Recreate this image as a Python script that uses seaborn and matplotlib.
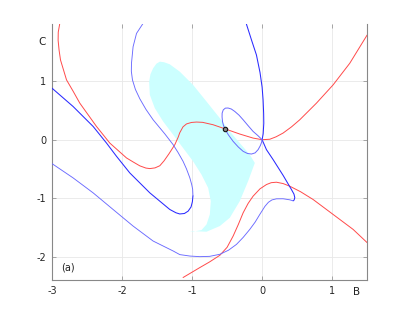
import matplotlib
matplotlib.use("Agg")
import matplotlib.pyplot as plt
import seaborn as sns

sns.set_style("ticks")

# red curve through origin (upper)
red_up_b = [-2.89, -2.912, -2.914, -2.90, -2.88, -2.794, -2.70, -2.604, -2.366, -2.176,
            -1.937, -1.843, -1.747, -1.66, -1.604, -1.53, -1.461, -1.40, -1.33, -1.247,
            -1.20, -1.176, -1.13, -1.08, -1.01, -0.937, -0.85, -0.7, -0.533,
            -0.319, -0.129, 0.0, 0.11, 0.2, 0.3, 0.42, 0.538, 0.776, 1.014, 1.252, 1.5]
red_up_c = [1.99, 1.84, 1.70, 1.53, 1.364, 1.023, 0.83, 0.625, 0.227, -0.057,
            -0.312, -0.38, -0.447, -0.485, -0.494, -0.482, -0.445, -0.36, -0.24, -0.085,
            0.04, 0.12, 0.22, 0.27, 0.295, 0.302, 0.297, 0.256, 0.187,
            0.097, 0.028, 0.0, 0.008, 0.05, 0.114, 0.22, 0.341, 0.625, 0.9375, 1.307, 1.79]

# red curve (lower)
red_lo_b = [-1.129, -0.89, -0.75, -0.604, -0.50, -0.414, -0.34, -0.271, -0.20, -0.129,
            -0.03, 0.062, 0.13, 0.205, 0.30, 0.395, 0.55, 0.729, 1.014, 1.3, 1.5]
red_lo_c = [-2.357, -2.187, -2.09, -1.977, -1.84, -1.648, -1.45, -1.25, -1.09, -0.966,
            -0.84, -0.767, -0.735, -0.727, -0.75, -0.795, -0.89, -1.023, -1.278, -1.534, -1.76]

# blue curve, left branch (dark part)
blue_l_b = [-3.0, -2.7, -2.414, -2.223, -2.08, -1.89, -1.604, -1.319, -1.23, -1.176,
            -1.11, -1.057, -1.015, -0.996, -0.988]
blue_l_c = [0.88, 0.568, 0.227, -0.057, -0.284, -0.568, -0.909, -1.193, -1.25, -1.27,
            -1.262, -1.222, -1.15, -1.06, -0.96]
# blue curve, left branch (light part, back up to the top)
blue_t_b = [-0.988, -0.992, -1.005, -1.033, -1.08, -1.129, -1.20, -1.271, -1.39, -1.557,
            -1.66, -1.747, -1.81, -1.852, -1.868, -1.866, -1.843, -1.794, -1.7]
blue_t_c = [-0.96, -0.85, -0.77, -0.65, -0.50, -0.37, -0.22, -0.085, 0.10, 0.341,
            0.52, 0.70, 0.86, 1.023, 1.17, 1.307, 1.59, 1.818, 1.99]

# near-vertical blue branch through origin, down to the right
blue_v_b = [-0.224, -0.15, -0.081, -0.03, 0.0, 0.014, 0.022, 0.024, 0.015, 0.0, 0.062,
            0.157, 0.3, 0.419, 0.455, 0.467, 0.458, 0.443]
blue_v_c = [1.977, 1.70, 1.449, 1.15, 0.9, 0.68, 0.45, 0.28, 0.1, 0.0, -0.17,
            -0.34, -0.61, -0.852, -0.93, -0.99, -1.03, -1.045]

# long lower blue curve
blue_lo_b = [0.443, 0.395, 0.3, 0.205, 0.14, 0.09, 0.04, -0.033, -0.10, -0.176, -0.27,
             -0.366, -0.48, -0.604, -0.75, -0.89, -1.03, -1.176, -1.271, -1.557, -1.843,
             -2.129, -2.414, -2.7, -3.0]
blue_lo_c = [-1.045, -1.028, -1.01, -1.011, -1.03, -1.07, -1.14, -1.278, -1.41, -1.534,
             -1.67, -1.79, -1.89, -1.96, -1.995, -2.0, -1.99, -1.965, -1.903, -1.733,
             -1.477, -1.193, -0.909, -0.653, -0.41]

# small loop around the marked point
loop_b = [0.0, -0.06, -0.129, -0.2, -0.271, -0.33, -0.39, -0.44, -0.486, -0.525, -0.555,
          -0.571, -0.572, -0.566, -0.553, -0.533, -0.48, -0.414, -0.34, -0.271, -0.21,
          -0.152, -0.10, -0.057, -0.025, -0.009, 0.0]
loop_c = [0.0, 0.07, 0.142, 0.24, 0.341, 0.42, 0.483, 0.525, 0.542, 0.54, 0.51,
          0.455, 0.39, 0.312, 0.25, 0.187, 0.08, -0.028, -0.125, -0.199, -0.235,
          -0.245, -0.225, -0.17, -0.10, -0.05, 0.0]

# cyan region outline
cyan_b = [-1.461, -1.51, -1.557, -1.595, -1.614, -1.604, -1.533, -1.414, -1.271, -1.129,
          -0.986, -0.866, -0.771, -0.733, -0.747, -0.794, -0.866, -0.986, -1.033, -0.794,
          -0.604, -0.461, -0.319, -0.2, -0.104, -0.176, -0.319, -0.461, -0.604, -0.794,
          -0.986, -1.176, -1.319, -1.40]
cyan_c = [1.335, 1.30, 1.222, 1.12, 0.994, 0.767, 0.54, 0.312, 0.085, -0.142,
          -0.37, -0.597, -0.824, -1.051, -1.278, -1.449, -1.545, -1.574, -1.562, -1.574,
          -1.477, -1.335, -1.051, -0.71, -0.398, -0.256, -0.057, 0.142, 0.369, 0.653,
          0.937, 1.164, 1.29, 1.325]

point_b = [-0.533]
point_c = [0.185]

fig = plt.figure(figsize=(4.07, 3.15), dpi=100)
ax = fig.add_axes([0.128, 0.111, 0.774, 0.813])

ax.fill(cyan_b, cyan_c, color="#ccffff", lw=0, zorder=1)

red = "#ff4a4a"
dark = "#2a2aff"
light = "#6a6aff"
curves = [
    (red_up_b, red_up_c, red, 0.7),
    (red_lo_b, red_lo_c, red, 0.7),
    (blue_l_b, blue_l_c, dark, 0.75),
    (blue_t_b, blue_t_c, light, 0.65),
    (blue_v_b, blue_v_c, dark, 0.75),
    (blue_lo_b, blue_lo_c, light, 0.65),
    (loop_b, loop_c, light, 0.7),
]
for xb, yc, col, lw in curves:
    sns.lineplot(x=xb, y=yc, sort=False, estimator=None, color=col, lw=lw, ax=ax,
                 zorder=3)

sns.scatterplot(x=point_b, y=point_c, ax=ax, s=10, facecolor="#888888",
                edgecolor="#111111", linewidth=0.8, zorder=5)

ax.set_xlim(-3, 1.5)
ax.set_ylim(-2.4, 1.98)
ax.set_xticks([-3, -2, -1, 0, 1])
ax.set_yticks([-2, -1, 0, 1])
ax.set_xticklabels(["-3", "-2", "-1", "0", "1"])
ax.set_yticklabels(["-2", "-1", "0", "1"])
ax.grid(True, color="#e8e8e8", lw=0.6, zorder=0)
ax.set_axisbelow(True)
ax.tick_params(direction="in", length=3, width=0.6, color="#999999",
               labelsize=7, labelcolor="#262626", top=True, right=True, pad=4)
for side in ["left", "bottom", "right"]:
    ax.spines[side].set_color("#888888")
    ax.spines[side].set_linewidth(0.8)
ax.spines["top"].set_visible(False)

ax.text(-2.87, -2.18, "(a)", fontsize=7, color="#222222", va="center", ha="left")
fig.text(0.877, 0.073, "B", fontsize=7.5, color="#222222", ha="center", va="center")
fig.text(0.103, 0.867, "C", fontsize=7.5, color="#222222", ha="center", va="center")

fig.savefig("out.png", dpi=100)
